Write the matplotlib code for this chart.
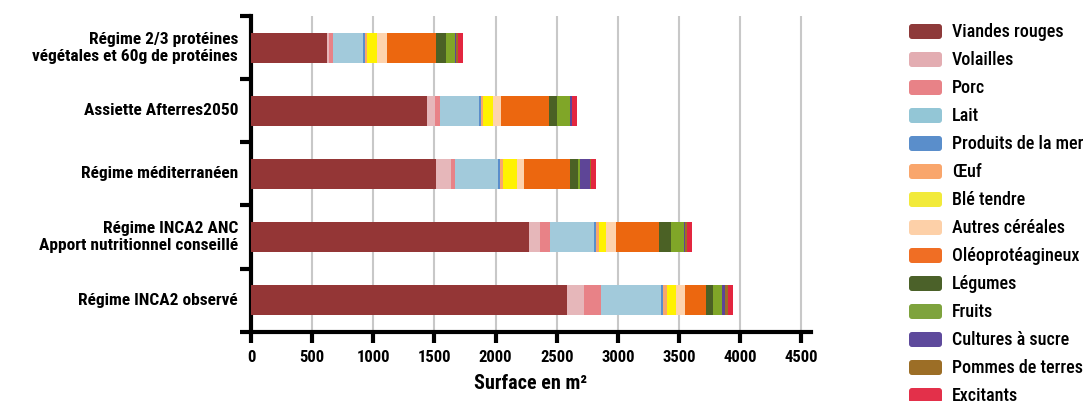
import numpy as np
import matplotlib
matplotlib.use("Agg")
import matplotlib.pyplot as plt
from matplotlib.patches import FancyBboxPatch

plt.rcParams['font.family'] = ['Roboto Condensed', 'DejaVu Sans']

# regimes, de bas en haut
regimes = ["Régime INCA2 observé",
           "Régime INCA2 ANC\nApport nutritionnel conseillé",
           "Régime méditerranéen",
           "Assiette Afterres2050",
           "Régime 2/3 protéines\nvégétales et 60g de protéines"]

postes = ["Viandes rouges", "Volailles", "Porc", "Lait", "Produits de la mer", "Œuf",
          "Blé tendre", "Autres céréales", "Oléoprotéagineux", "Légumes", "Fruits",
          "Cultures à sucre", "Pommes de terres", "Excitants"]

couleurs = ["#943636", "#e6b7ba", "#e88287", "#a2cadb", "#5a8ecb", "#f9a66c",
            "#fff200", "#fdd3ae", "#ec670f", "#4b6125", "#80a628",
            "#5e4597", "#9c6e26", "#e3263f"]
couleurs_legende = ["#8e3a3a", "#e3adb2", "#e88287", "#93c6d6", "#5a8ecb", "#f9a66c",
                    "#f2ea3a", "#fdd0a8", "#f06e24", "#4b6129", "#7ea33d",
                    "#5e4a9c", "#9c6e26", "#e3304a"]

# surfaces en m2 par poste (meme ordre que regimes)
viandes_rouges = [2582, 2274, 1511, 1442, 624]
volailles = [142, 90, 125, 63, 16]
porc = [139, 82, 33, 41, 27]
lait = [488, 360, 354, 322, 246]
produits_mer = [16, 16, 11, 11, 20]
oeuf = [36, 24, 30, 22, 16]
ble_tendre = [76, 55, 109, 82, 84]
autres_cereales = [71, 87, 60, 65, 77]
oleoproteagineux = [172, 349, 376, 387, 401]
legumes = [57, 98, 63, 65, 81]
fruits = [77, 104, 16, 109, 77]
cultures_sucre = [19, 11, 85, 17, 8]
pommes_terre = [24, 14, 6, 2, 19]
excitants = [47, 43, 40, 41, 35]

series = [viandes_rouges, volailles, porc, lait, produits_mer, oeuf, ble_tendre,
          autres_cereales, oleoproteagineux, legumes, fruits, cultures_sucre,
          pommes_terre, excitants]

fig = plt.figure(figsize=(10.88, 4.01), dpi=100)
ax = fig.add_axes([0.2307, 0.1733, 0.5147, 0.7856])

y = np.arange(len(regimes))
left = np.zeros(len(regimes))
for vals, col, nom in zip(series, couleurs, postes):
    ax.barh(y, vals, left=left, height=0.48, color=col, label=nom, zorder=3)
    left += np.array(vals)

ax.set_xlim(0, 4580)
ax.set_ylim(-0.5, 4.5)
ax.set_xticks(np.arange(0, 4501, 500))
ax.set_xticklabels([str(v) for v in range(0, 4501, 500)], fontsize=12, fontweight='bold')
ax.xaxis.grid(True, color="#c8c8c8", linewidth=1.5, zorder=0)
ax.set_axisbelow(True)

# ticks de separation sur l'axe y
ax.set_yticks(np.arange(-0.5, 4.6, 1))
ax.set_yticklabels([])
ax.tick_params(axis='y', length=8, width=3, direction='out')
ax.tick_params(axis='x', length=8, width=3, direction='out', pad=5)
for i, r in enumerate(regimes):
    ax.annotate(r, xy=(0, i), xytext=(-13, 0), textcoords='offset pixels',
                ha='right', va='center', multialignment='right',
                fontsize=12.5, fontweight='bold', linespacing=1.15)

for s in ['top', 'right']:
    ax.spines[s].set_visible(False)
ax.spines['left'].set_linewidth(3)
ax.spines['bottom'].set_linewidth(3)

ax.set_xlabel("Surface en m²", fontsize=14.5, fontweight='bold', labelpad=7)

# legende dessinee a la main, en pixels
lax = fig.add_axes([0, 0, 1, 1])
lax.set_xlim(0, 1088)
lax.set_ylim(401, 0)
lax.axis('off')
lax.patch.set_alpha(0)
for k, (nom, col) in enumerate(zip(postes, couleurs_legende)):
    yc = 31 + 28 * k
    lax.add_patch(FancyBboxPatch((909, yc - 7), 33, 15,
                                 boxstyle="round,pad=0,rounding_size=3",
                                 facecolor=col, edgecolor='none'))
    lax.text(952, yc + 1, nom, ha='left', va='center', fontsize=13, fontweight='medium')

fig.savefig("out.png", dpi=100)
